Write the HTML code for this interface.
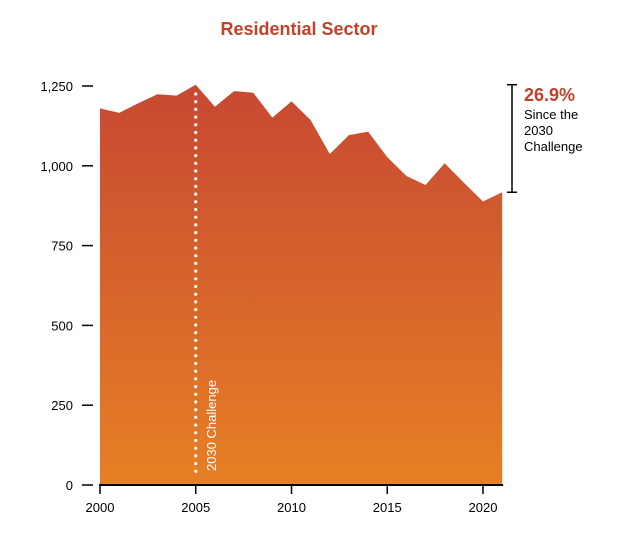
<!DOCTYPE html>
<html><head><meta charset="utf-8"><style>
body{margin:0;background:#fff;font-family:"Liberation Sans",Arial,sans-serif}
svg text{font-family:"Liberation Sans",Arial,sans-serif}
</style></head><body>
<svg id="chart" width="624" height="543" viewBox="0 0 624 543">
<defs><linearGradient id="g" x1="0" y1="0" x2="0" y2="1">
<stop offset="0" stop-color="#c74832"/><stop offset="1" stop-color="#e68024"/></linearGradient></defs>
<text x="299" y="35" text-anchor="middle" font-size="18" font-weight="bold" fill="#c0422b">Residential Sector</text>
<g id="plot"></g>
</svg>
<script>
const years=[2000,2001,2002,2003,2004,2005,2006,2007,2008,2009,2010,2011,2012,2013,2014,2015,2016,2017,2018,2019,2020,2021];
const values=[1180,1166,1196,1224,1220,1254,1185,1234,1229,1151,1202,1143,1037,1096,1107,1027,968,940,1008,947,888,917];
const yTicks=[0,250,500,750,1000,1250];
const yTickLabels=["0","250","500","750","1,000","1,250"];
const xTicks=[2000,2005,2010,2015,2020];
const x=v=>100+(v-2000)*19.15;
const y=v=>485-v*0.3192;
const NS="http://www.w3.org/2000/svg";
const g=document.getElementById('plot');
function mk(t,a,txt){const e=document.createElementNS(NS,t);for(const k in a)e.setAttribute(k,a[k]);if(txt!==undefined)e.textContent=txt;g.appendChild(e);return e;}
let d=`M${x(years[0])},${y(0)}`;
years.forEach((yr,i)=>{d+=` L${x(yr)},${y(values[i])}`;});
d+=` L${x(years[years.length-1])},${y(0)} Z`;
const area=mk('path',{d:d,fill:'url(#g)'});


const xl=mk('line',{x1:99,x2:x(2021)+1,y1:485,y2:485,stroke:'#000','stroke-width':2});


yTicks.forEach((t,i)=>{
 const l=mk('line',{x1:82,x2:93,y1:y(t),y2:y(t),stroke:'#000','stroke-width':1.5});
 
 
 const tx=mk('text',{x:73,y:y(t)+5,'text-anchor':'end','font-size':13,fill:'#000'},yTickLabels[i]);
 
 
});
xTicks.forEach(t=>{
 const l=mk('line',{x1:x(t),x2:x(t),y1:485,y2:494,stroke:'#000','stroke-width':1.5});
 
 
 const tx=mk('text',{x:x(t),y:512,'text-anchor':'middle','font-size':13,fill:'#000'},String(t));
 
 
});
const dl=mk('line',{x1:x(2005),x2:x(2005),y1:y(1250)+8,y2:478,stroke:'#fff','stroke-width':3.2,'stroke-dasharray':'0 7.7','stroke-linecap':'round'});


const ct=mk('text',{transform:`translate(${x(2005)+20},471) rotate(-90)`,'font-size':13,fill:'#fff'},'2030 Challenge');


const b=mk('path',{d:`M507,${y(values[5])} H517 M512,${y(values[5])} V${y(values[21])} M507,${y(values[21])} H517`,stroke:'#000','stroke-width':1.5,fill:'none'});


const pct=mk('text',{x:524,y:101,'font-size':18,'font-weight':'bold',fill:'#c0422b'},'26.9%');


['Since the','2030','Challenge'].forEach((s,i)=>{
 const t=mk('text',{x:524,y:119+i*16,'font-size':13,fill:'#000'},s);
 
 
});
</script>
</body></html>
